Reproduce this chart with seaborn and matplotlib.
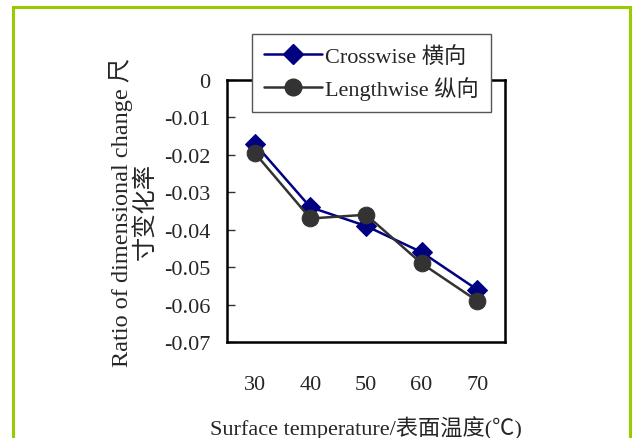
import numpy as np
import pandas as pd
import matplotlib
matplotlib.use("Agg")
import matplotlib.pyplot as plt
import seaborn as sns
from matplotlib.lines import Line2D
from matplotlib.patches import Rectangle

# values
temps = ["30", "40", "50", "60", "70"]
crosswise = [-0.017, -0.034, -0.039, -0.046, -0.056]
lengthwise = [-0.0195, -0.037, -0.036, -0.049, -0.059]
y_ticks = [0, -0.01, -0.02, -0.03, -0.04, -0.05, -0.06, -0.07]
y_tick_labels = ["0", "-0.01", "-0.02", "-0.03", "-0.04", "-0.05", "-0.06", "-0.07"]
series_names = ["Crosswise 横向", "Lengthwise 纵向"]

sns.set_style("white")
plt.rcParams["font.family"] = ["Liberation Serif", "Noto Sans CJK SC", "DejaVu Sans"]
FS = 16

pos = np.arange(len(temps))
df = pd.DataFrame({
    "pos": np.concatenate([pos, pos]),
    "ratio": crosswise + lengthwise,
    "series": [series_names[0]] * len(temps) + [series_names[1]] * len(temps),
})

fig = plt.figure(figsize=(6.38, 4.39), dpi=100)
ax = fig.add_axes([227 / 638, 1 - 343 / 439, 278 / 638, 262 / 439])

colors = ["#000080", "#333333"]
markers = ["D", "o"]
msizes = [10.5, 12]
for name, c, m, ms in zip(series_names, colors, markers, msizes):
    sub = df[df["series"] == name]
    sns.lineplot(data=sub, x="pos", y="ratio", ax=ax, color=c, marker=m,
                 markersize=ms, markeredgecolor=c, linewidth=1.8, legend=False)

ax.set_xlim(-0.5, len(temps) - 0.5)
ax.set_ylim(-0.07, 0)
ax.set_yticks(y_ticks)
ax.set_yticklabels(y_tick_labels, fontsize=FS)
ax.set_xticks(pos)
ax.set_xticklabels(temps, fontsize=FS)
ax.set_xticks(pos[:-1] + 0.5, minor=True)
ax.tick_params(axis="x", which="major", length=0, pad=24)
ax.tick_params(axis="x", which="minor", direction="in", length=6, width=1, color="#333333")
ax.tick_params(axis="y", direction="in", length=6, width=1, color="#333333", pad=12, left=True)

for s in ax.spines.values():
    s.set_color("black")
    s.set_linewidth(1.8)

ax.set_xlabel("Surface temperature/表面温度(℃)", fontsize=FS, va="top")
ax.xaxis.set_label_coords(0.5, -0.28)
ax.set_ylabel("Ratio of dimensional change 尺\n寸变化率", fontsize=17.5,
              multialignment="center", va="center", linespacing=1.05)
ax.yaxis.set_label_coords(-0.34, 0.5)

handles = [Line2D([], [], color=c, marker=m, markersize=ms, markeredgecolor=c, linewidth=1.8)
           for c, m, ms in zip(colors, markers, msizes)]
leg = fig.legend(handles, series_names, loc="upper left", bbox_to_anchor=(252 / 638, 1 - 35 / 439),
                 fontsize=FS, frameon=True, fancybox=False, handlelength=2.6,
                 handletextpad=0.15, borderpad=0.55, labelspacing=0.4, borderaxespad=0)
leg.get_frame().set_edgecolor("#555555")
leg.get_frame().set_linewidth(1.0)
leg.get_frame().set_facecolor("white")
leg.get_frame().set_alpha(1)

fig.add_artist(Rectangle((13 / 638, -0.05), (630 - 13) / 638, 1.05 - 8 / 439,
                         transform=fig.transFigure, fill=False,
                         edgecolor="#99CC00", linewidth=2.2))

fig.savefig("out.png", dpi=100)
